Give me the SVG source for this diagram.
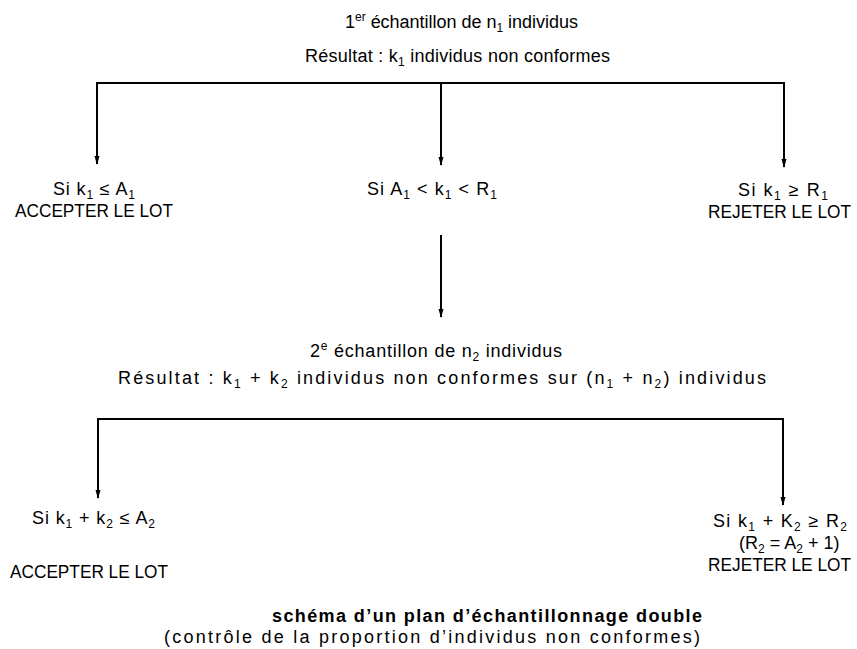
<svg xmlns="http://www.w3.org/2000/svg" width="857" height="649" viewBox="0 0 857 649">
<style>
text{font-family:"Liberation Sans",Arial,sans-serif;font-size:18px;fill:#000}
.sub{font-size:12px}
.sup{font-size:12px}
.b{font-weight:bold}
.c{fill:none;stroke:#000;stroke-width:2}
</style>
<defs>
<marker id="ah" markerWidth="9" markerHeight="6" refX="8" refY="3" orient="auto" markerUnits="userSpaceOnUse" viewBox="0 0 9 6">
<path d="M0,0.5 L9,3 L0,5.5 Z" fill="#000"/>
</marker>
</defs>
<rect width="857" height="649" fill="#fff"/>
<g id="connectors">
<path class="c" d="M97,83 H784"/>
<path class="c" d="M97,82 V164" marker-end="url(#ah)"/>
<path class="c" d="M441,83 V165" marker-end="url(#ah)"/>
<path class="c" d="M784,82 V167" marker-end="url(#ah)"/>
<path class="c" d="M441,235 V317" marker-end="url(#ah)"/>
<path class="c" d="M98,419 H783"/>
<path class="c" d="M98,418 V498" marker-end="url(#ah)"/>
<path class="c" d="M783,418 V505" marker-end="url(#ah)"/>
</g>
<g id="sample1">
<text x="345" y="28" textLength="233">1<tspan class="sup" dy="-7">er</tspan><tspan dy="7"> échantillon de n</tspan><tspan class="sub" dy="4">1</tspan><tspan dy="-4"> individus</tspan></text>
<text x="305" y="62" textLength="305">Résultat : k<tspan class="sub" dy="4">1</tspan><tspan dy="-4"> individus non conformes</tspan></text>
</g>
<g id="accept1">
<text x="53" y="195" textLength="82">Si k<tspan class="sub" dy="4">1</tspan><tspan dy="-4"> ≤ A</tspan><tspan class="sub" dy="4">1</tspan></text>
<text x="15" y="217" textLength="158" lengthAdjust="spacingAndGlyphs">ACCEPTER LE LOT</text>
</g>
<g id="continue1">
<text x="367" y="195" textLength="130">Si A<tspan class="sub" dy="4">1</tspan><tspan dy="-4"> &lt; k</tspan><tspan class="sub" dy="4">1</tspan><tspan dy="-4"> &lt; R</tspan><tspan class="sub" dy="4">1</tspan></text>
</g>
<g id="reject1">
<text x="738" y="196" textLength="90">Si k<tspan class="sub" dy="4">1</tspan><tspan dy="-4"> ≥ R</tspan><tspan class="sub" dy="4">1</tspan></text>
<text x="708" y="218" textLength="143" lengthAdjust="spacingAndGlyphs">REJETER LE LOT</text>
</g>
<g id="sample2">
<text x="310" y="357" textLength="252">2<tspan class="sup" dy="-7">e</tspan><tspan dy="7"> échantillon de n</tspan><tspan class="sub" dy="4">2</tspan><tspan dy="-4"> individus</tspan></text>
<text x="118" y="384" textLength="648">Résultat : k<tspan class="sub" dy="4">1</tspan><tspan dy="-4"> + k</tspan><tspan class="sub" dy="4">2</tspan><tspan dy="-4"> individus non conformes sur (n</tspan><tspan class="sub" dy="4">1</tspan><tspan dy="-4"> + n</tspan><tspan class="sub" dy="4">2</tspan><tspan dy="-4">) individus</tspan></text>
</g>
<g id="accept2">
<text x="32" y="524" textLength="123">Si k<tspan class="sub" dy="4">1</tspan><tspan dy="-4"> + k</tspan><tspan class="sub" dy="4">2</tspan><tspan dy="-4"> ≤ A</tspan><tspan class="sub" dy="4">2</tspan></text>
<text x="10" y="578" textLength="158" lengthAdjust="spacingAndGlyphs">ACCEPTER LE LOT</text>
</g>
<g id="reject2">
<text x="713" y="527" textLength="134">Si k<tspan class="sub" dy="4">1</tspan><tspan dy="-4">  + K</tspan><tspan class="sub" dy="4">2</tspan><tspan dy="-4"> ≥ R</tspan><tspan class="sub" dy="4">2</tspan></text>
<text x="739" y="549">(R<tspan class="sub" dy="4">2</tspan><tspan dy="-4"> = A</tspan><tspan class="sub" dy="4">2</tspan><tspan dy="-4"> + 1)</tspan></text>
<text x="708" y="571" textLength="143" lengthAdjust="spacingAndGlyphs">REJETER LE LOT</text>
</g>
<g id="caption">
<text class="b" x="272" y="622" textLength="430">schéma d’un plan d’échantillonnage double</text>
<text x="164" y="643" textLength="536">(contrôle de la proportion d’individus non conformes)</text>
</g>
</svg>
